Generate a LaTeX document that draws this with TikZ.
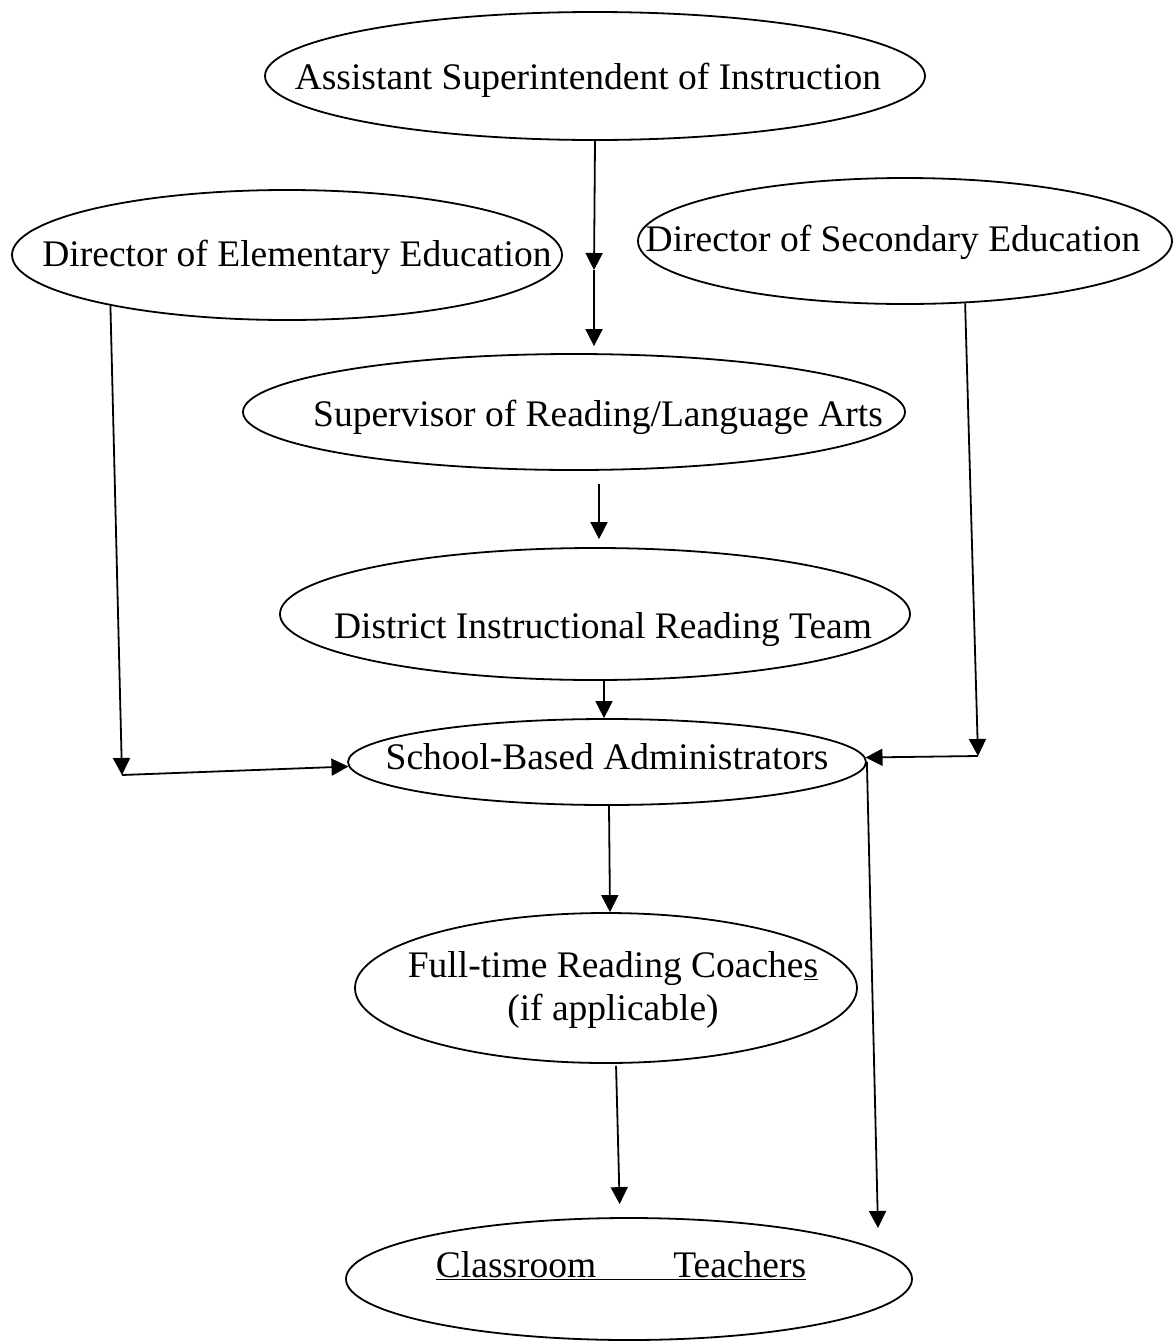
\documentclass[tikz,border=0pt]{standalone}
\usepackage{fontspec}
\setmainfont{Liberation Serif}
\usetikzlibrary{shapes.geometric,arrows.meta}
\begin{document}
\begin{tikzpicture}[x=1pt,y=-1pt,
  oval/.style={ellipse,draw,line width=1.8pt,inner sep=0pt},
  arr/.style={line width=1.8pt,-{Triangle[length=17pt,width=17pt]}},
  lbl/.style={font=\fontsize{37.5}{43}\selectfont,align=center,inner sep=0pt}]
\useasboundingbox (0,0) rectangle (1173,1342);
% nodes
\node[oval,minimum width=660pt,minimum height=128pt,
  label={[lbl,xshift=-7pt,yshift=-4pt]center:Assistant Superintendent of Instruction}] (asst) at (595,76) {};
\node[oval,minimum width=550pt,minimum height=130pt,
  label={[lbl,xshift=10pt,yshift=-2pt]center:Director of Elementary Education}] (elem) at (287,255) {};
\node[oval,minimum width=534pt,minimum height=126pt,
  label={[lbl,xshift=-12pt,yshift=-1pt]center:Director of Secondary Education}] (sec) at (905,241) {};
\node[oval,minimum width=662pt,minimum height=116pt,
  label={[lbl,xshift=24pt,yshift=-5pt]center:Supervisor of Reading/Language Arts}] (sup) at (574,412) {};
\node[oval,minimum width=630pt,minimum height=132pt,
  label={[lbl,xshift=8pt,yshift=-16pt]center:District Instructional Reading Team}] (dist) at (595,614) {};
\node[oval,minimum width=518pt,minimum height=86pt,
  label={[lbl,yshift=5pt]center:School-Based Administrators}] (school) at (607,762) {};
\node[oval,minimum width=502pt,minimum height=150pt,
  label={[lbl,xshift=7pt,yshift=-2pt]center:Full-time Reading Coache\underline{s}\\(if applicable)}] (coach) at (606,988) {};
\node[oval,minimum width=566pt,minimum height=122pt,
  label={[lbl,xshift=-8pt,yshift=13pt]center:\underline{Classroom\hspace{77pt}Teachers}}] (cls) at (629,1279) {};
% coordinates
\coordinate (m1) at (594,270);
\coordinate (c1) at (122,775);
\coordinate (c2) at (978,756);
\coordinate (t2) at (878,1228);
% connectors
\draw[arr] (asst.south) -- (m1);
\draw[arr,shorten >=7pt] (m1) -- (m1 |- sup.north);
\draw[arr,shorten <=13pt,shorten >=8pt] ([xshift=25pt]sup.south) -- ([xshift=25pt]sup.south |- dist.north);
\draw[arr] ([xshift=9pt]dist.south) -- ([xshift=9pt]dist.south |- school.north);
\draw[arr] ([xshift=2pt]school.south) -- ([xshift=4pt]coach.north);
\draw[arr,shorten <=2pt,shorten >=13pt] ([xshift=10pt]coach.south) -- ([xshift=14pt]coach.south |- cls.north);
\draw[arr] (elem.196.6) -- (c1);
\draw[arr] (c1) -- (school.181.8);
\draw[arr] (sec.314.5) -- (c2);
\draw[arr] (c2) -- (school.1);
\draw[arr] (school.east) -- (t2);
\end{tikzpicture}
\end{document}
